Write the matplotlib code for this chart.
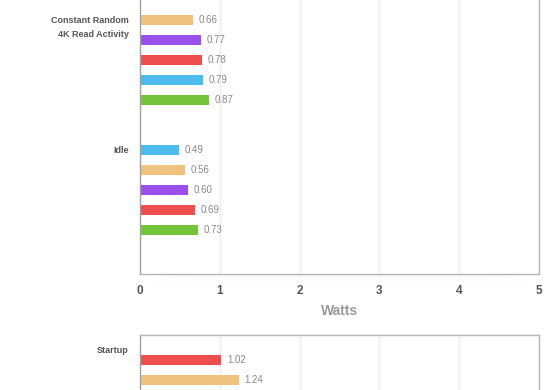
import matplotlib
matplotlib.use("Agg")
import matplotlib.pyplot as plt
import numpy as np

# Series colours (legend not visible in this crop)
series_colors = {"A": "#EFC27F", "B": "#9B4FEA", "C": "#EF4E4E", "D": "#4DBBEB", "E": "#73C43A"}

# Top panel groups
top_groups = ["Constant Random\n4K Read Activity", "Idle"]
cr_series = ["A", "B", "C", "D", "E"]
cr_values = [0.66, 0.77, 0.78, 0.79, 0.87]
idle_series = ["D", "A", "B", "C", "E"]
idle_values = [0.49, 0.56, 0.60, 0.69, 0.73]

# Bottom panel group
bottom_groups = ["Startup"]
startup_series = ["C", "A"]
startup_values = [1.02, 1.24]

x_ticks = [0, 1, 2, 3, 4, 5]
x_label = "Watts"

plt.rcParams["font.family"] = ["Liberation Sans", "DejaVu Sans"]

fig = plt.figure(figsize=(5.6, 3.9), dpi=100)
W, H = 560.0, 390.0

def px_axes(left, top, right, bottom, **kw):
    # rectangle given in pixel rows/cols of the figure (may lie outside it)
    return fig.add_axes([left / W, 1 - bottom / H, (right - left) / W, (bottom - top) / H], **kw)

def style(ax, top_spine, bottom_spine):
    ax.set_xlim(0, 5)
    ax.set_xticks(x_ticks)
    ax.set_yticks([])
    ax.grid(axis="x", color="#ebebeb", linewidth=1)
    ax.set_axisbelow(True)
    for s in ax.spines.values():
        s.set_color("#b5b5b5")
        s.set_linewidth(1)
    ax.spines["left"].set_color("#a0a0a0")
    ax.spines["top"].set_visible(top_spine)
    ax.spines["bottom"].set_visible(bottom_spine)

def draw_group(ax, y0, label, series, values, label_y):
    ys = [y0 + i for i in range(len(values))]
    ax.barh(ys, values, height=0.5, color=[series_colors[s] for s in series])
    for y, v in zip(ys, values):
        ax.annotate(f"{v:.2f}", xy=(v, y), xytext=(4, 0), textcoords="offset points",
                    va="center", ha="left", fontsize=7, color="#888888")
    ax.annotate(label, xy=(0, label_y), xycoords=("axes fraction", "data"),
                xytext=(-8, 0), textcoords="offset points", ha="right", va="top",
                multialignment="right", linespacing=1.75, fontsize=6.5,
                fontweight="bold", color="#555555")

# soft shadow under the top panel
sh = px_axes(140, 274, 539, 288, zorder=0)
gx = np.linspace(-1, 1, 200)
gy = np.linspace(0, 1, 20)
shade = np.exp(-gy[:, None] * 4) * (1 - gx[None, :] ** 6)
sh.imshow(shade, cmap="Greys", vmin=0, vmax=14, aspect="auto", extent=(0, 1, 1, 0))
sh.axis("off")

# top panel: one unit = 20 px, first bar at pixel row 20
ax1 = px_axes(140, -116, 539, 274)
ax1.patch.set_alpha(0)
style(ax1, False, True)
ax1.set_ylim((274 - 20) / 20, (-116 - 20) / 20)
draw_group(ax1, 0, top_groups[0], cr_series, cr_values, -0.22)
draw_group(ax1, 6.5, top_groups[1], idle_series, idle_values, 6.5 - 0.22)
ax1.tick_params(axis="x", length=0, pad=8, labelsize=8.5, labelcolor="#555555")
for t in ax1.get_xticklabels():
    t.set_fontweight("bold")
ax1.set_xlabel(x_label, fontsize=10, fontweight="bold", color="#999999", labelpad=5)

# bottom panel: first bar at pixel row 360
ax2 = px_axes(140, 335, 539, 520)
style(ax2, True, False)
ax2.set_ylim((520 - 360) / 20, (335 - 360) / 20)
ax2.set_xticklabels([])
ax2.tick_params(axis="x", length=0)
draw_group(ax2, 0, bottom_groups[0], startup_series, startup_values, -0.5 - 0.22)

fig.savefig("out.png", dpi=100)
